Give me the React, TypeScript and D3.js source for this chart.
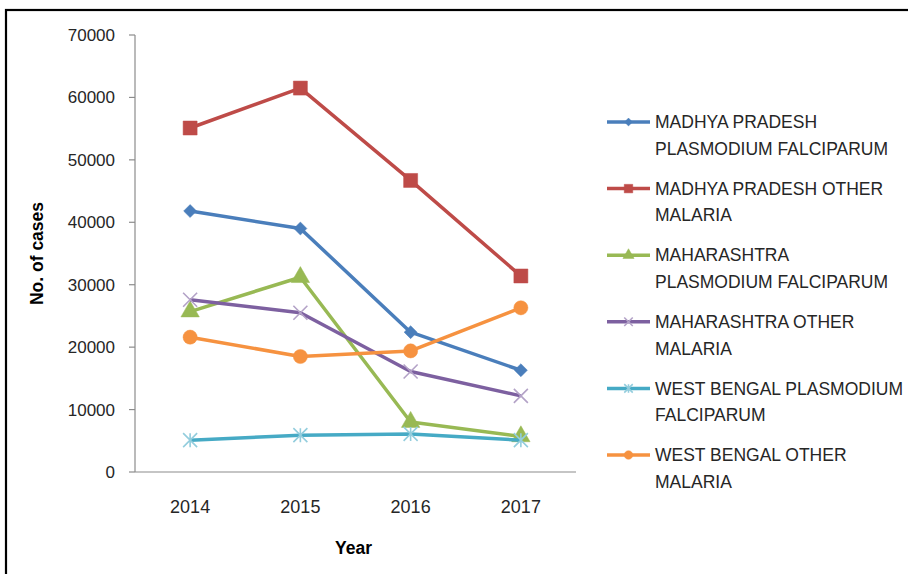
import React from 'react';
import * as d3 from 'd3';

const years = ['2014', '2015', '2016', '2017'];
const mpFalciparum = [41800, 39000, 22400, 16300];
const mpOther = [55100, 61500, 46700, 31400];
const mhFalciparum = [25700, 31200, 8000, 5700];
const mhOther = [27600, 25500, 16100, 12200];
const wbFalciparum = [5100, 5900, 6100, 5100];
const wbOther = [21600, 18500, 19400, 26300];
const yTicks = [0, 10000, 20000, 30000, 40000, 50000, 60000, 70000];

const seriesLabels = [
  ['MADHYA PRADESH', 'PLASMODIUM FALCIPARUM'],
  ['MADHYA PRADESH OTHER', 'MALARIA'],
  ['MAHARASHTRA', 'PLASMODIUM FALCIPARUM'],
  ['MAHARASHTRA OTHER', 'MALARIA'],
  ['WEST BENGAL PLASMODIUM', 'FALCIPARUM'],
  ['WEST BENGAL OTHER', 'MALARIA'],
];
const seriesValues = [mpFalciparum, mpOther, mhFalciparum, mhOther, wbFalciparum, wbOther];
const seriesColors = ['#4a7ebb', '#be4b48', '#98b954', '#7d60a0', '#46aac5', '#f69240'];
const markerColors = ['#4a7ebb', '#be4b48', '#98b954', '#b3a2c7', '#93cddd', '#f69240'];
const markerKinds = ['diamond', 'square', 'triangle', 'x', 'star', 'circle'];

const W = 908;
const H = 574;
const margin = { top: 35, right: 332, bottom: 102, left: 135 };
const FONT = '"Liberation Sans", Arial, sans-serif';

// marker path centered at 0,0
function markerPath(kind: string, s: number) {
  if (kind === 'diamond') return d3.symbol(d3.symbolDiamond2, s * s * 0.55)()!;
  if (kind === 'square') return d3.symbol(d3.symbolSquare, s * s)()!;
  if (kind === 'triangle') return d3.symbol(d3.symbolTriangle, s * s * 0.75)()!;
  if (kind === 'circle') return d3.symbol(d3.symbolCircle, s * s * 0.8)()!;
  const r = s / 2;
  const xPath = `M${-r},${-r}L${r},${r}M${-r},${r}L${r},${-r}`;
  if (kind === 'x') return xPath;
  return xPath + `M0,${-r}L0,${r}`;
}

function Marker({ kind, x, y, s, color }: { kind: string; x: number; y: number; s: number; color: string }) {
  const stroked = kind === 'x' || kind === 'star';
  return (
    <path
      d={markerPath(kind, s)}
      transform={`translate(${x},${y})`}
      fill={stroked ? 'none' : color}
      stroke={color}
      strokeWidth={stroked ? 1.6 : 0.5}
    />
  );
}

export default function App() {
  const innerW = W - margin.left - margin.right;
  const innerH = H - margin.top - margin.bottom;

  const x = d3.scalePoint<string>().domain(years).range([0, innerW]).padding(0.5);
  const y = d3.scaleLinear().domain([0, 70000]).range([innerH, 0]);

  const line = d3
    .line<number>()
    .x((_, i) => x(years[i])!)
    .y((d) => y(d));

  const legendX = 607;
  const legendY = 122;
  const legendStep = 66.6;

  return (
    <svg width={W} height={H} style={{ position: 'absolute', left: 0, top: 0, background: '#fff' }} fontFamily={FONT}>
      <rect x={6} y={10} width={W + 10} height={H + 10} fill="#fff" stroke="#000" strokeWidth={2.2} />
      <g transform={`translate(${margin.left},${margin.top})`}>
        {/* y axis */}
        <line x1={0} x2={0} y1={0} y2={innerH} stroke="#8c8c8c" strokeWidth={1.2} />
        {yTicks.map((t) => (
          <g key={t} transform={`translate(0,${y(t)})`}>
            <line x1={-6} x2={0} stroke="#8c8c8c" strokeWidth={1.2} />
            <text x={-20} dy="0.35em" textAnchor="end" fontSize={17} fill="#262626">
              {t}
            </text>
          </g>
        ))}
        {/* x axis */}
        <line x1={0} x2={innerW} y1={innerH} y2={innerH} stroke="#8c8c8c" strokeWidth={1.2} />
        {years.map((yr) => (
          <text key={yr} x={x(yr)} y={innerH + 41} textAnchor="middle" fontSize={18} fill="#262626">
            {yr}
          </text>
        ))}
        <text x={innerW / 2 - 2} y={innerH + 82} textAnchor="middle" fontSize={17.5} fontWeight="bold" fill="#000">
          Year
        </text>
        <text
          transform={`translate(${-92},${innerH / 2}) rotate(-90)`}
          textAnchor="middle"
          fontSize={17.5}
          fontWeight="bold"
          fill="#000"
        >
          No. of cases
        </text>

        {/* series */}
        {seriesValues.map((vals, si) => (
          <g key={si}>
            <path d={line(vals)!} fill="none" stroke={seriesColors[si]} strokeWidth={3.5} strokeLinejoin="round" />
            {vals.map((v, i) => (
              <Marker key={i} kind={markerKinds[si]} x={x(years[i])!} y={y(v)} s={14} color={markerColors[si]} />
            ))}
          </g>
        ))}
      </g>

      {/* legend */}
      {seriesLabels.map((lines, si) => {
        const ly = legendY + si * legendStep;
        return (
          <g key={si}>
            <line x1={legendX} x2={legendX + 43} y1={ly} y2={ly} stroke={seriesColors[si]} strokeWidth={3.5} />
            <Marker kind={markerKinds[si]} x={legendX + 21.5} y={ly} s={8.5} color={markerColors[si]} />
            {lines.map((t, li) => (
              <text key={li} x={legendX + 48} y={ly + li * 26.7} dy="0.35em" fontSize={17.5} fill="#262626">
                {t}
              </text>
            ))}
          </g>
        );
      })}
    </svg>
  );
}
